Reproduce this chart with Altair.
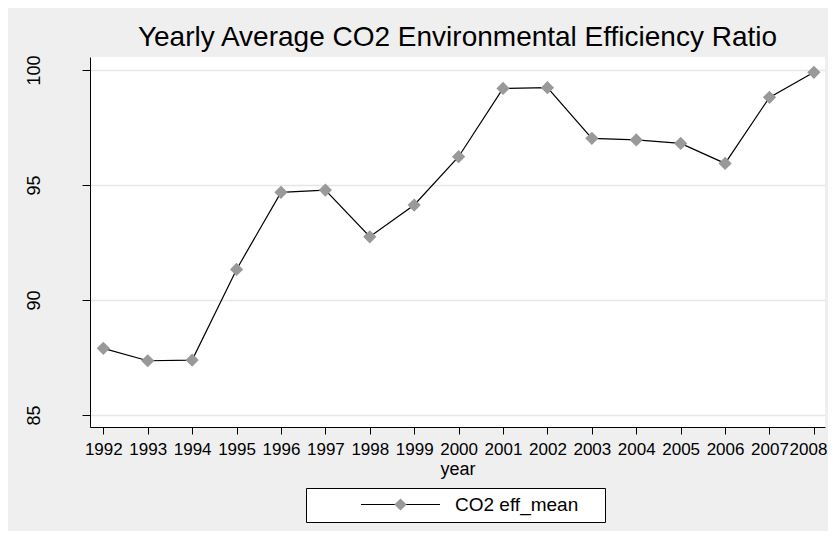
import altair as alt
import pandas as pd

years = list(range(1992, 2009))
co2_eff_mean = [87.90, 87.36, 87.39, 91.33, 94.68, 94.78, 92.75, 94.13, 96.23,
                99.20, 99.23, 97.03, 96.96, 96.81, 95.94, 98.81, 99.90]
series_name = "CO2 eff_mean"
y_ticks = [85, 90, 95, 100]
title_text = "Yearly Average CO2 Environmental Efficiency Ratio"
x_title = "year"

df = pd.DataFrame({
    "year": years,
    "value": co2_eff_mean,
    "series": series_name,
    "marker2": series_name,
})

FONT = "Liberation Sans"
NBSP = "\u00a0"

x_enc = alt.X(
    "year:Q",
    scale=alt.Scale(domain=[1991.7, 2008.25], nice=False, zero=False),
    axis=alt.Axis(
        values=years, format="d", title=x_title, grid=False,
        domainColor="black", domainWidth=1, tickColor="black", tickSize=7, tickWidth=1,
        labelFontSize=17, labelFont=FONT, labelColor="black", labelPadding=7,
        labelOverlap=False, labelFlush=12, labelFlushOffset=13,
        titleFontSize=18, titleFont=FONT, titleFontWeight="normal", titleColor="black",
        titlePadding=3,
    ),
)
y_enc = alt.Y(
    "value:Q",
    scale=alt.Scale(domain=[84.48, 100.565], nice=False, zero=False),
    axis=alt.Axis(
        values=y_ticks, title=None, grid=True, gridColor="#e6e6e6", gridWidth=1.5,
        domainColor="black", domainWidth=1, tickColor="black", tickSize=8, tickWidth=1,
        labelFontSize=18, labelFont=FONT, labelColor="black", labelAngle=270,
        labelAlign="center", labelBaseline="bottom", labelPadding=39,
    ),
)

line = alt.Chart(df).mark_line(strokeWidth=1.2).encode(
    x=x_enc,
    y=y_enc,
    stroke=alt.Stroke(
        "series:N",
        scale=alt.Scale(range=["#000000"]),
        legend=alt.Legend(
            title=NBSP, titleOrient="right", titleFontSize=1, titlePadding=20,
            orient="none", legendX=216, legendY=431,
            symbolType="stroke", symbolSize=6241, symbolStrokeWidth=1,
            symbolStrokeColor="black", symbolOffset=47.5, clipHeight=19,
            labelOffset=14.5, labelFontSize=19, labelFont=FONT, labelColor="black",
            padding=7, fillColor="white", strokeColor="black",
        ),
    ),
)

points = alt.Chart(df).mark_point(filled=True, size=175, opacity=1, color="#999999").encode(
    x="year:Q",
    y="value:Q",
    shape=alt.Shape(
        "marker2:N",
        scale=alt.Scale(range=["diamond"]),
        legend=alt.Legend(
            title=None, orient="none", legendX=304, legendY=441,
            symbolSize=150, symbolStrokeWidth=0, symbolFillColor="#999999",
            clipHeight=13, labelFontSize=1, labelExpr="''", labelOffset=0,
            padding=0,
        ),
    ),
)

chart = alt.layer(line, points).properties(
    width=735,
    height=370,
    title=alt.TitleParams(
        title_text, fontSize=28, font=FONT, fontWeight="normal", color="black",
        anchor="middle", offset=-19.5, baseline="alphabetic",
    ),
    autosize=alt.AutoSizeParams(type="none"),
    padding={"left": 82, "top": 49, "right": 3, "bottom": 104},
).configure(
    background="#efefef",
).configure_view(
    fill="white", strokeWidth=0,
)

chart.save("out.html", embed_options={"renderer": "svg", "actions": False})
